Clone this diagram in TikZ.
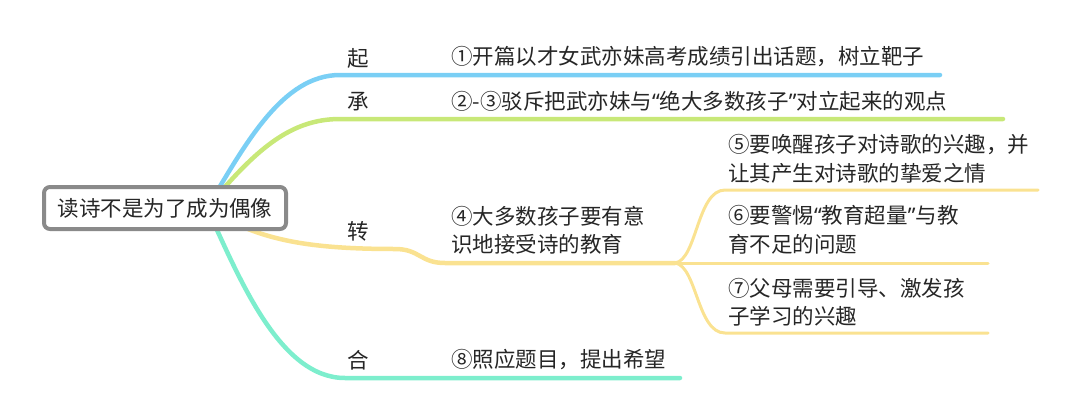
\documentclass[tikz,border=0pt]{standalone}
\usepackage{fontspec}
\setmainfont{Noto Sans CJK SC}
\newfontfamily\quotefont{Noto Sans}
\newcommand{\openq}{{\quotefont “}}
\newcommand{\closeq}{{\quotefont ”}}
\usetikzlibrary{positioning,backgrounds}
\definecolor{qiblue}{RGB}{122,207,245}
\definecolor{chenggreen}{RGB}{200,232,120}
\definecolor{zhuanyellow}{RGB}{250,226,145}
\definecolor{heteal}{RGB}{125,238,205}
\definecolor{rootgray}{RGB}{138,138,138}

\begin{document}
\begin{tikzpicture}[
    x=1pt, y=-1pt,
    every node/.style={font=\fontsize{21.5}{28.5}\selectfont, text=black!85},
    root/.style={rectangle, draw=rootgray, line width=4pt, rounded corners=6pt, fill=white, minimum width=242pt, minimum height=42pt, inner sep=0pt, font=\fontsize{21.5}{28}\selectfont},
    stage/.style={anchor=west, inner sep=0pt},
    point/.style={anchor=west, inner sep=0pt, align=left},
    branch/.style={line width=4.5pt, line cap=round},
    twig/.style={line width=3pt, line cap=round, draw=zhuanyellow}
]
    \useasboundingbox (0,0) rectangle (1080,418);

    % Root
    \node[root] (root) at (165,208) {读诗不是为了成为偶像};
    \coordinate (hub) at (207,208);

    % Stages
    \node[stage] (qi) at (347,58) {起};
    \node[stage] (cheng) at (347,102) {承};
    \node[stage] (zhuan) at (347,231) {转};
    \node[stage] (he) at (347,360) {合};

    % Points
    \node[point] (p1) at (451,57) {①开篇以才女武亦妹高考成绩引出话题，树立靶子};
    \node[point] (p2) at (451,101) {②-③驳斥把武亦妹与\openq 绝大多数孩子\closeq 对立起来的观点};
    \node[point] (p4) at (451,230.5) {④大多数孩子要有意\\识地接受诗的教育};
    \node[point] (p5) at (728,159) {⑤要唤醒孩子对诗歌的兴趣，并\\让其产生对诗歌的挚爱之情};
    \node[point] (p6) at (728,230) {⑥要警惕\openq 教育超量\closeq 与教\\育不足的问题};
    \node[point] (p7) at (728,302.5) {⑦父母需要引导、激发孩\\子学习的兴趣};
    \node[point] (p8) at (451,360) {⑧照应题目，提出希望};

    % Line ends
    \coordinate (qiEnd) at (940,75);
    \coordinate (chengEnd) at (1003,119);
    \coordinate (fork) at (675,263);
    \coordinate (heEnd) at (680,378);
    \coordinate (p5End) at (1038,190);
    \coordinate (p6End) at (988,263);
    \coordinate (p7End) at (988,333);

    \begin{pgfonlayer}{background}
        \draw[branch, qiblue] (hub) .. controls (245,145) and (282,75) .. (340,75) -- (qiEnd);
        \draw[branch, chenggreen] (hub) .. controls (255,150) and (290,119) .. (340,119) -- (chengEnd);
        \draw[branch, zhuanyellow] (hub) .. controls (255,238) and (300,249) .. (395,249)
            .. controls (420,249) and (420,263) .. (445,263) -- (fork);
        \draw[branch, heteal] (hub) .. controls (240,280) and (280,378) .. (345,378) -- (heEnd);
        \draw[twig] (fork) .. controls (697,260) and (697,190) .. (725,190) -- (p5End);
        \draw[twig] (fork) -- (p6End);
        \draw[twig] (fork) .. controls (697,266) and (697,333) .. (725,333) -- (p7End);
    \end{pgfonlayer}
\end{tikzpicture}
\end{document}
